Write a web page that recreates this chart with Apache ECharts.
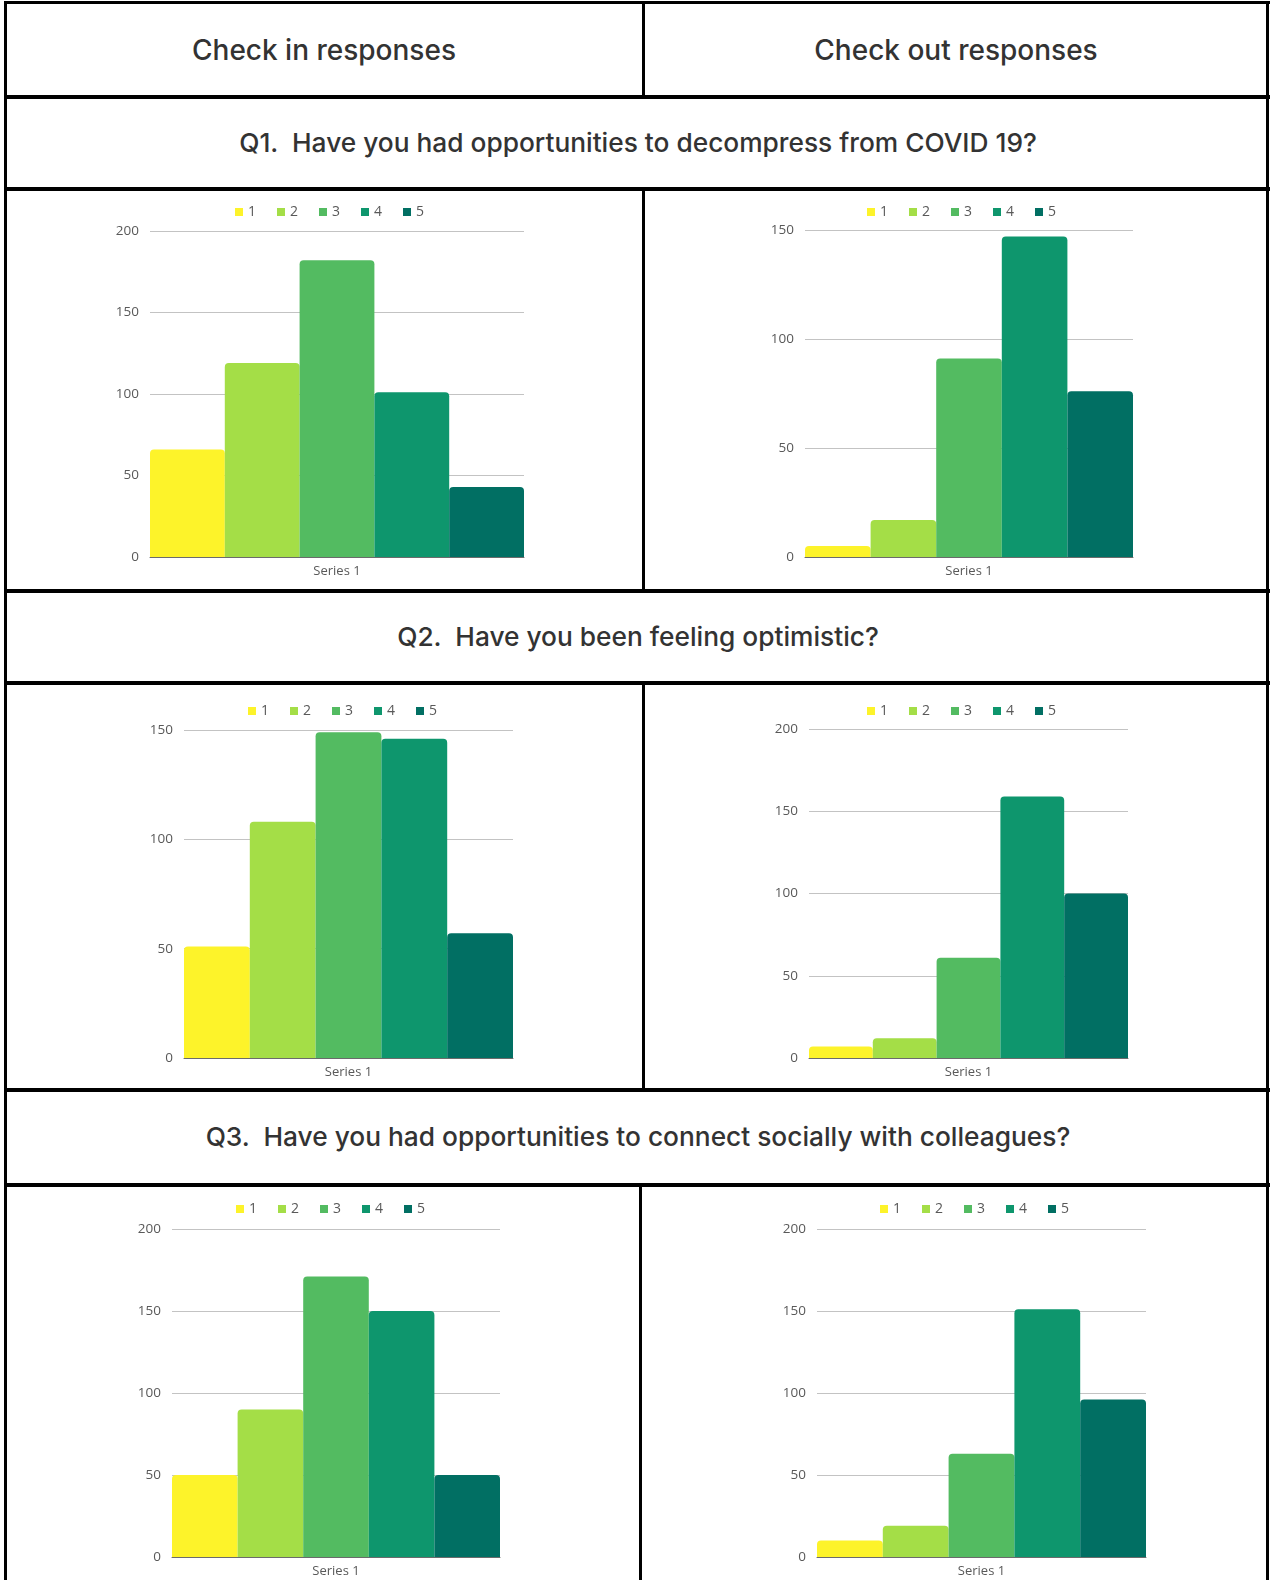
<!DOCTYPE html>
<html>
<head>
<meta charset="utf-8">
<script src="https://cdn.jsdelivr.net/npm/echarts@6/dist/echarts.min.js"></script>
<style>
    body{margin:0;background:#fff;}
    .page{position:relative;width:1271px;height:1580px;overflow:hidden;background:#fff;}
    .ln{position:absolute;background:#000;}
    .hd{position:absolute;font-family:Inter,"Noto Sans",sans-serif;font-weight:500;color:#333;white-space:pre;transform:translate(-50%,-50%);line-height:1;}
    .cell{position:absolute;}
</style>
</head>
<body>
<div class="page" id="page">
    <div class="hd" style="left:324px;top:50px;font-size:28px;">Check in responses</div>
    <div class="hd" style="left:956px;top:50px;font-size:28px;">Check out responses</div>
    <div class="hd" style="left:638px;top:143px;font-size:26.3px;">Q1.  Have you had opportunities to decompress from COVID 19?</div>
    <div class="hd" style="left:638px;top:637px;font-size:26.3px;">Q2.  Have you been feeling optimistic?</div>
    <div class="hd" style="left:638px;top:1137px;font-size:26.3px;">Q3.  Have you had opportunities to connect socially with colleagues?</div>

    <div class="cell" id="c1" style="left:7px;top:191px;width:635px;height:398px;"></div>
    <div class="cell" id="c2" style="left:645px;top:191px;width:621px;height:398px;"></div>
    <div class="cell" id="c3" style="left:7px;top:685px;width:635px;height:403px;"></div>
    <div class="cell" id="c4" style="left:645px;top:685px;width:621px;height:403px;"></div>
    <div class="cell" id="c5" style="left:7px;top:1187px;width:632px;height:393px;"></div>
    <div class="cell" id="c6" style="left:642px;top:1187px;width:624px;height:393px;"></div>

    <!-- table borders -->
    <div class="ln" style="left:4px;top:1px;width:1266px;height:3px;"></div>
    <div class="ln" style="left:4px;top:95px;width:1266px;height:4px;"></div>
    <div class="ln" style="left:4px;top:187px;width:1266px;height:4px;"></div>
    <div class="ln" style="left:4px;top:589px;width:1266px;height:4px;"></div>
    <div class="ln" style="left:4px;top:681px;width:1266px;height:4px;"></div>
    <div class="ln" style="left:4px;top:1088px;width:1266px;height:4px;"></div>
    <div class="ln" style="left:4px;top:1183px;width:1266px;height:4px;"></div>
    <div class="ln" style="left:4px;top:1px;width:3px;height:1579px;"></div>
    <div class="ln" style="left:1266px;top:1px;width:3px;height:1579px;"></div>
    <div class="ln" style="left:642px;top:1px;width:3px;height:95px;"></div>
    <div class="ln" style="left:642px;top:189px;width:3px;height:402px;"></div>
    <div class="ln" style="left:642px;top:683px;width:3px;height:407px;"></div>
    <div class="ln" style="left:639px;top:1185px;width:3px;height:395px;"></div>
</div>
<script>
var categories = ['Series 1'];
var legendNames = ['1', '2', '3', '4', '5'];
var barColors = ['#fdf32a', '#a4de47', '#53bb61', '#0e966d', '#016f63'];

// 每个图的数值 (1..5)
var q1In = [66, 119, 182, 101, 43];
var q1Out = [5, 17, 91, 147, 76];
var q2In = [51, 108, 149, 146, 57];
var q2Out = [7, 12, 61, 159, 100];
var q3In = [50, 90, 171, 150, 50];
var q3Out = [10, 19, 63, 151, 96];

// y轴最大值 / 间隔
var yMaxList = [200, 150, 150, 200, 200, 200];
var yStep = 50;

window.onload = function(){
    // 页面坐标: cell左上角, 绘图区 [left, top, right, bottom], 图例中心
    var layouts = [
        {id:'c1', cell:[7, 191],   plot:[150, 231, 524, 557],     legend:[326, 209]},
        {id:'c2', cell:[645, 191], plot:[805, 230, 1133, 557],    legend:[958, 209]},
        {id:'c3', cell:[7, 685],   plot:[184, 730, 513, 1058],    legend:[339, 708]},
        {id:'c4', cell:[645, 685], plot:[809, 729, 1128, 1058],   legend:[958, 708]},
        {id:'c5', cell:[7, 1187],  plot:[172, 1229, 500, 1557],   legend:[327, 1206]},
        {id:'c6', cell:[642, 1187],plot:[817, 1229, 1146, 1557],  legend:[971, 1206]}
    ];
    var dataList = [q1In, q1Out, q2In, q2Out, q3In, q3Out];
    var charts = [];

    layouts.forEach(function(lay, k){
        var cx = lay.cell[0], cy = lay.cell[1];
        var values = dataList[k];
        var series = legendNames.map(function(name, i){
            return {
                name: name,
                type: 'bar',
                barGap: '0%',
                barCategoryGap: '0%',
                itemStyle: {
                    color: barColors[i],
                    borderRadius: [4, 4, 0, 0]
                },
                data: [values[i]]
            };
        });
        var option = {
            animation: false,
            textStyle: {fontFamily: '"Open Sans", sans-serif'},
            legend: {
                data: legendNames,
                icon: 'rect',
                itemWidth: 8,
                itemHeight: 8,
                itemGap: 21,
                left: lay.legend[0] - cx - 96,
                top: lay.legend[1] - cy - 9,
                textStyle: {color: '#595959', fontSize: 14}
            },
            grid: {
                left: lay.plot[0] - cx,
                top: lay.plot[1] - cy,
                width: lay.plot[2] - lay.plot[0],
                height: lay.plot[3] - lay.plot[1]
            },
            xAxis: {
                type: 'category',
                data: categories,
                axisTick: {show: false},
                axisLine: {lineStyle: {color: '#6b6b6b', width: 1}},
                axisLabel: {color: '#595959', fontSize: 13, margin: 8}
            },
            yAxis: {
                type: 'value',
                min: 0,
                max: yMaxList[k],
                interval: yStep,
                axisLine: {show: false},
                axisTick: {show: false},
                axisLabel: {color: '#595959', fontSize: 13.5, margin: 11},
                splitLine: {lineStyle: {color: ['#c3c3c3']}}
            },
            series: series
        };
        var myChart = echarts.init(document.getElementById(lay.id));
        myChart.setOption(option);
        charts.push(myChart);
    });

    window.onresize = function(){
        charts.forEach(function(c){ c.resize(); });
    }
}
</script>
</body>
</html>
